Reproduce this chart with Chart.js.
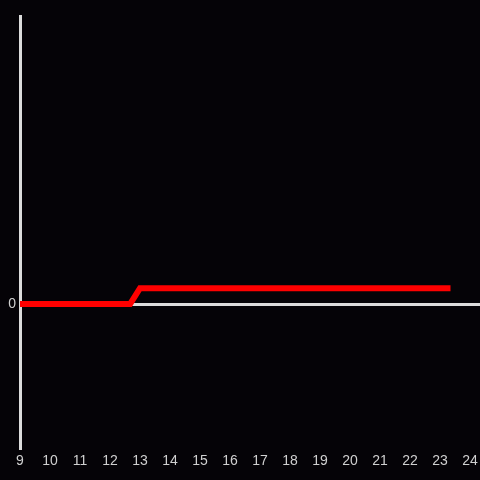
<!DOCTYPE html>
<html>
<head>
<meta charset="utf-8">
<script src="https://cdn.jsdelivr.net/npm/chart.js@4"></script>
<style>
  html, body { margin: 0; padding: 0; background: #050307; }
  canvas { display: block; }
</style>
</head>
<body>
<canvas id="chart" width="480" height="480"></canvas>
<script>
// step line
const xValues = [9, 12.67, 13, 23.35];
const yValues = [0, 0, 0.11, 0.11];
const xTickLabels = [9, 10, 11, 12, 13, 14, 15, 16, 17, 18, 19, 20, 21, 22, 23, 24];
const yTickLabels = [0];

const ctx = document.getElementById('chart').getContext('2d');
new Chart(ctx, {
  type: 'line',
  data: {
    datasets: [
      {
        data: xValues.map((x, i) => ({ x: x, y: yValues[i] })),
        borderColor: '#ff0000',
        borderWidth: 6,
        pointRadius: 0,
        tension: 0,
        fill: false,
      },
    ],
  },
  options: {
    responsive: false,
    animation: false,
    layout: { padding: { top: 16, right: 0, left: 0, bottom: 0 } },
    plugins: { legend: { display: false }, tooltip: { enabled: false } },
    scales: {
      x: {
        type: 'linear',
        min: 9,
        max: 24.333,
        grid: { display: false, drawTicks: false },
        border: { display: false },
        ticks: {
          autoSkip: false,
          maxRotation: 0,
          padding: 5,
          color: '#d0d0d0',
          font: { family: 'Liberation Sans', size: 14 },
        },
        afterBuildTicks: (scale) => {
          scale.ticks = xTickLabels.map((v) => ({ value: v }));
        },
        afterFit: (scale) => {
          scale.height = 32;
          scale.paddingRight = 0;
        },
      },
      y: {
        min: -1,
        max: 2,
        grid: {
          drawTicks: false,
          color: (c) => (c.tick && c.tick.value === 0 ? '#dcdcdc' : 'rgba(0,0,0,0)'),
          lineWidth: 3,
        },
        border: { display: true, color: '#dcdcdc', width: 3 },
        ticks: {
          stepSize: 1,
          padding: 4,
          color: '#d0d0d0',
          font: { family: 'Liberation Sans', size: 14 },
          callback: (v) => (yTickLabels.includes(v) ? String(v) : ''),
        },
        afterFit: (scale) => { scale.width = 20; },
      },
    },
  },
});
</script>
</body>
</html>
